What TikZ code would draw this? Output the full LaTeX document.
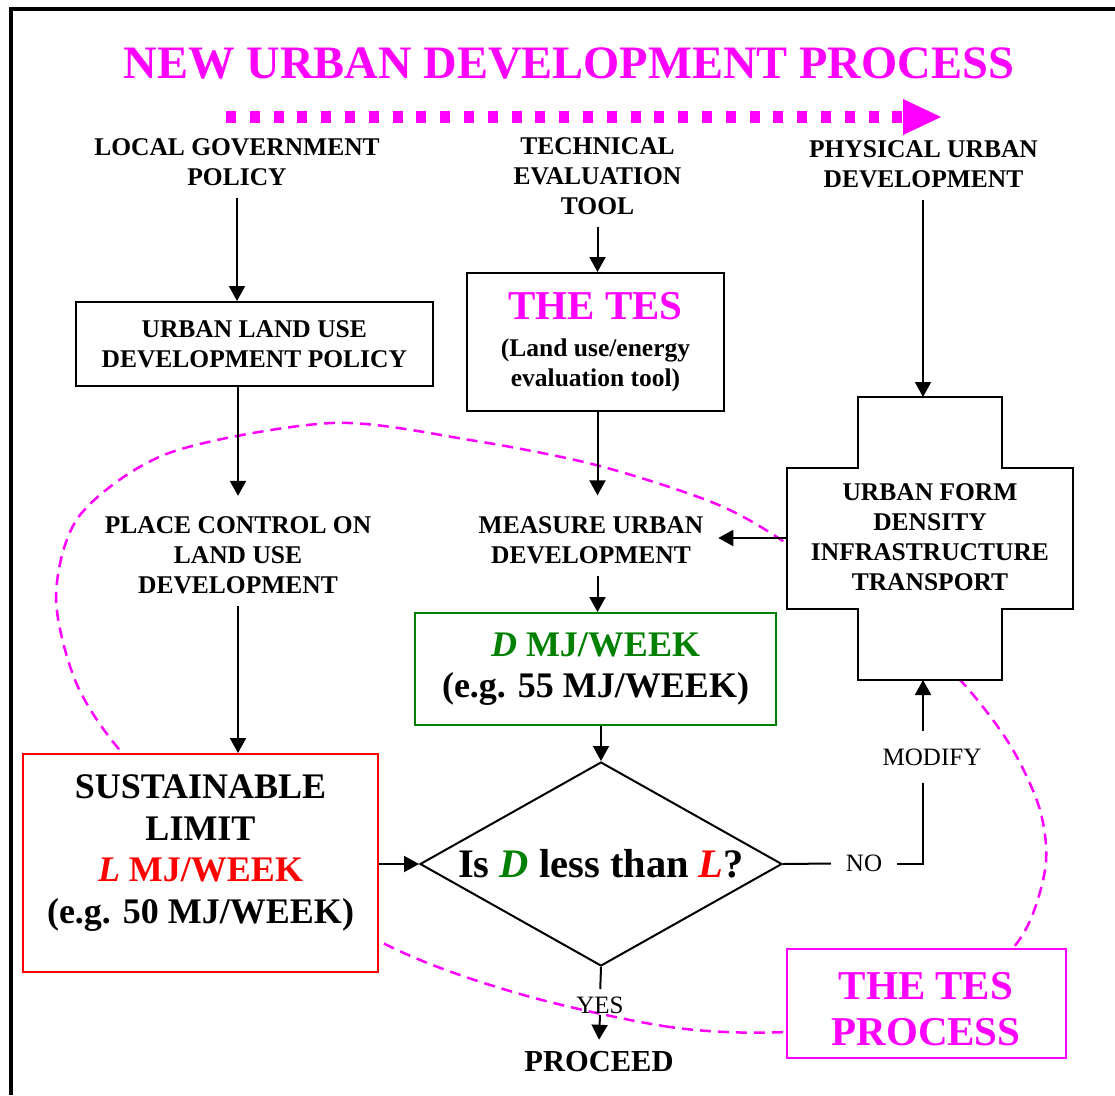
\documentclass[tikz,border=0pt]{standalone}
\usepackage{fontspec}
\setmainfont{Liberation Serif}
\usetikzlibrary{arrows.meta,shapes.geometric}
\definecolor{tesmag}{RGB}{255,0,255}
\definecolor{tesgreen}{RGB}{0,128,0}
\definecolor{tesred}{RGB}{255,0,0}
\newcommand{\hdrfont}{\fontsize{25.5}{30}\selectfont\bfseries}
\newcommand{\lblfont}{\fontsize{25}{30}\selectfont}
\newcommand{\bigfont}{\fontsize{36}{41.5}\selectfont\bfseries}
\newcommand{\tesfont}{\fontsize{41}{46}\selectfont\bfseries}
\newcommand{\Dval}{\textcolor{tesgreen}{\textit{D}}}
\newcommand{\Lval}{\textcolor{tesred}{\textit{L}}}

\begin{document}
\begin{tikzpicture}[x=1pt, y=-1pt, line width=2pt,
  arrowline/.style={-{Triangle[width=16pt,length=15pt]}},
  headtxt/.style={align=center, font=\hdrfont, inner xsep=0pt, inner ysep=11pt},
  framebox/.style={draw, fill=white, align=center, font=\hdrfont, inner sep=0pt},
  plainlbl/.style={font=\lblfont, inner sep=0pt},
  tesloop/.style={tesmag, line width=2.5pt, dash pattern=on 11pt off 7pt}]
\useasboundingbox (0,0) rectangle (1115,1095);

% Frame
\draw[line width=4pt] (10.5,1095) -- (10.5,8.5) -- (1115,8.5);

% Title and process direction
\node[font=\fontsize{46.5}{50}\selectfont\bfseries, text=tesmag, inner sep=0pt] (title) at (569, 63.5) {NEW URBAN DEVELOPMENT PROCESS};
\coordinate (flowA) at (226, 117);
\coordinate (flowB) at (903, 117);
\draw[tesmag, line width=12pt, dash pattern=on 10pt off 13.8pt] (flowA) -- (flowB);
\fill[tesmag] (flowB) ++(0,-18) -- ++(38,18) -- ++(-38,18) -- cycle;

% The TES process loop (behind the boxes)
\draw[tesloop] plot[smooth cycle] coordinates {(786,1032) (670,1027) (520,994) (383,943) (200,830) (118,748) (75,680) (56,595) (80,515) (169,453) (332,423) (470,440) (596,465) (714,503) (786,543) (890,620) (960,680) (1010,745) (1040,810) (1045,870) (1017,943) (930,1015)};

% Local government column
\node[headtxt] (lgp) at (237, 162) {LOCAL GOVERNMENT\\POLICY};
\node[framebox, minimum width=357pt, minimum height=84pt] (ludp) at (254.3, 344) {URBAN LAND USE\\DEVELOPMENT POLICY};
\node[headtxt] (place) at (238, 555.5) {PLACE CONTROL ON\\LAND USE\\DEVELOPMENT};
\node[framebox, draw=tesred, minimum width=355pt, minimum height=218pt] (sust) at (200.5, 863) {};
\node[font=\bigfont, align=center, inner sep=0pt] (susttxt) at (200.5, 853) {SUSTAINABLE\\LIMIT\\{\color{tesred}\textit{L} MJ/WEEK}\\(e.g. 50 MJ/WEEK)};

% Technical evaluation column
\node[headtxt] (tet) at (597.5, 176.5) {TECHNICAL\\EVALUATION\\TOOL};
\node[framebox, minimum width=257pt, minimum height=138pt] (tes) at (595.5, 342) {{\tesfont\color{tesmag}THE TES}\\[7pt](Land use/energy\\evaluation tool)};
\node[headtxt] (measure) at (591, 540) {MEASURE URBAN\\DEVELOPMENT};
\node[framebox, draw=tesgreen, minimum width=361pt, minimum height=112pt, font=\bigfont] (dval) at (595.5, 669) {{\color{tesgreen}\textit{D} MJ/WEEK}\\(e.g. 55 MJ/WEEK)};
\node[draw, fill=white, diamond, aspect=1.775, minimum width=362pt, minimum height=204pt, inner sep=0pt, font=\fontsize{40.5}{45}\selectfont\bfseries] (dia) at (601, 864) {Is \Dval\ less than \Lval?};

% Physical development column
\node[headtxt] (pud) at (923.5, 164) {PHYSICAL URBAN\\DEVELOPMENT};
\draw[fill=white] (858,397) -- (1002,397) -- (1002,468) -- (1073,468) -- (1073,609) -- (1002,609) -- (1002,680) -- (858,680) -- (858,609) -- (787,609) -- (787,468) -- (858,468) -- cycle;
\node[align=center, font=\hdrfont, inner sep=0pt] (form) at (930, 537) {URBAN FORM\\DENSITY\\INFRASTRUCTURE\\TRANSPORT};
\coordinate (formtop) at (923, 397);
\coordinate (formbot) at (923, 680);
\coordinate (formleft) at (787, 538);

% Decision labels
\node[plainlbl, inner xsep=14pt] (no) at (864, 863.5) {NO};
\node[plainlbl, inner ysep=17pt] (modify) at (932, 757) {MODIFY};
\coordinate (turn) at (923, 863.5);
\node[plainlbl] (yes) at (600, 1005.5) {YES};
\node[headtxt, font=\fontsize{30.5}{34}\selectfont\bfseries] (proceed) at (599, 1062) {PROCEED};

% TES process box
\node[draw=tesmag, fill=white, minimum width=279pt, minimum height=109pt] (tesproc) at (926.5, 1003.5) {};
\node[align=center, font=\tesfont, text=tesmag, inner sep=0pt] (tesproctxt) at (926, 1009) {THE TES\\PROCESS};

% Connectors
\draw[arrowline] (lgp.south) -- (lgp.south |- ludp.north);
\draw[arrowline, shorten >=9pt] (ludp.south -| place) -- (place.north);
\draw[arrowline] (place.south) -- (place.south |- sust.north);
\draw[arrowline] (tet.south) -- (tet.south |- tes.north);
\draw[arrowline, shorten >=9pt] (tes.south -| tet) -- (tet |- measure.north);
\draw[arrowline] (measure.south -| tet) -- (tet |- dval.north);
\draw[arrowline] (dval.south -| dia) -- (dia.north);
\draw[arrowline] (pud.south -| formtop) -- (formtop);
\draw[arrowline, shorten >=14pt] (formleft) -- (formleft -| measure.east);
\draw[arrowline] (sust.east |- dia) -- (dia.west);
\draw (dia.east) -- (no.west);
\draw (no.east) -- (turn) -- (turn |- modify.south);
\draw[arrowline] (turn |- modify.north) -- (formbot);
\draw[shorten >=7pt] (dia.south) -- (yes.north);
\draw[arrowline] (yes.south) -- (proceed.north);

\end{tikzpicture}
\end{document}
